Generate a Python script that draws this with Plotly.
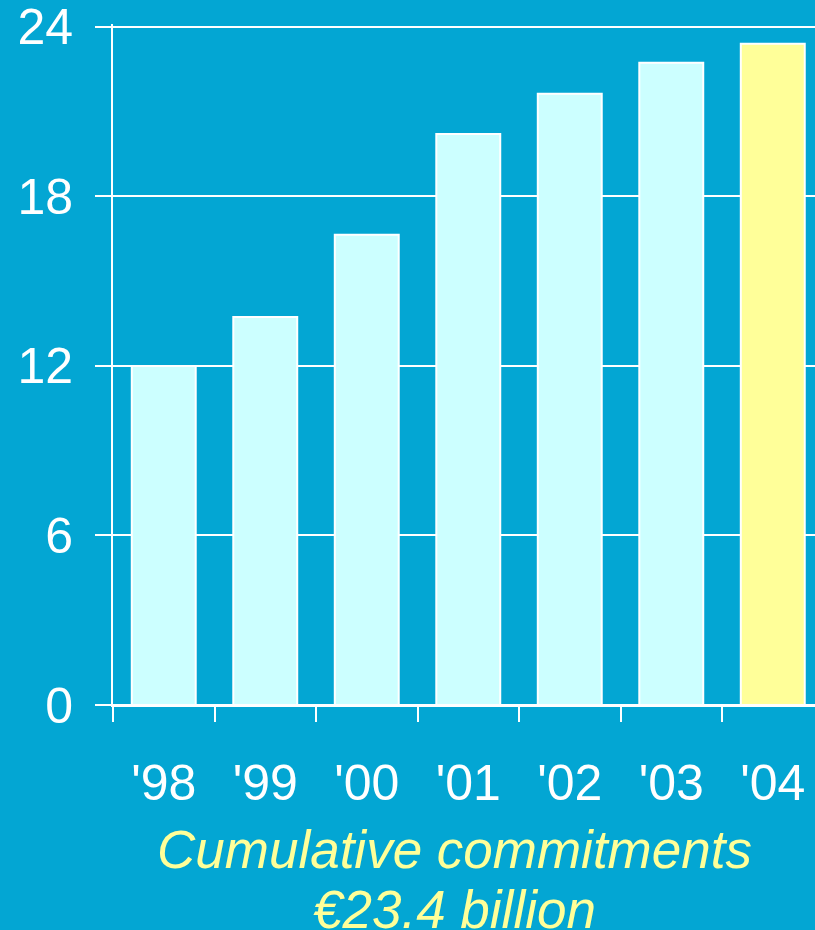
import plotly.graph_objects as go

# Cumulative commitments by year (EUR billion)
years = ["'98", "'99", "'00", "'01", "'02", "'03", "'04"]
commitments = [12.0, 13.73, 16.64, 20.21, 21.63, 22.73, 23.4]
bar_colors = ["#CCFFFF"] * 6 + ["#FFFF99"]
y_ticks = [0, 6, 12, 18, 24]

BG = "#03A6D3"
FONT = "Liberation Sans, Arial, sans-serif"

fig = go.Figure(
    go.Bar(
        x=years,
        y=commitments,
        width=0.63,
        marker=dict(color=bar_colors, line=dict(color="white", width=2)),
        hoverinfo="skip",
    )
)

fig.update_layout(
    width=815,
    height=930,
    margin=dict(l=113, r=0, t=24, b=225),
    paper_bgcolor=BG,
    plot_bgcolor=BG,
    showlegend=False,
    font=dict(family=FONT, color="white", size=50),
    xaxis=dict(
        type="category",
        range=[-0.5, 6.416],
        tickson="boundaries",
        ticks="outside",
        ticklen=15,
        tickwidth=2,
        tickcolor="white",
        showgrid=False,
        showline=True,
        linecolor="white",
        linewidth=2,
        ticklabelstandoff=33,
        ticklabeloverflow="allow",
        tickfont=dict(size=50, color="white"),
    ),
    yaxis=dict(
        range=[0, 24.1],
        tickvals=y_ticks,
        ticktext=[str(v) for v in y_ticks],
        ticks="outside",
        ticklen=16,
        tickwidth=2,
        tickcolor="white",
        showgrid=True,
        gridcolor="white",
        gridwidth=2,
        showline=True,
        linecolor="white",
        linewidth=2,
        zeroline=True,
        zerolinecolor="white",
        zerolinewidth=2,
        ticklabelstandoff=12,
        ticklabeloverflow="allow",
        tickfont=dict(size=50, color="white"),
    ),
    annotations=[
        dict(
            text="<i>Cumulative commitments</i>",
            xref="paper", yref="paper",
            x=0.487, y=-0.212,
            xanchor="center", yanchor="middle",
            showarrow=False,
            font=dict(family=FONT, size=53, color="#FFFF99"),
        ),
        dict(
            text="<i>€23.4 billion</i>",
            xref="paper", yref="paper",
            x=0.487, y=-0.300,
            xanchor="center", yanchor="middle",
            showarrow=False,
            font=dict(family=FONT, size=53, color="#FFFF99"),
        ),
    ],
)

fig.write_html("out.html")
